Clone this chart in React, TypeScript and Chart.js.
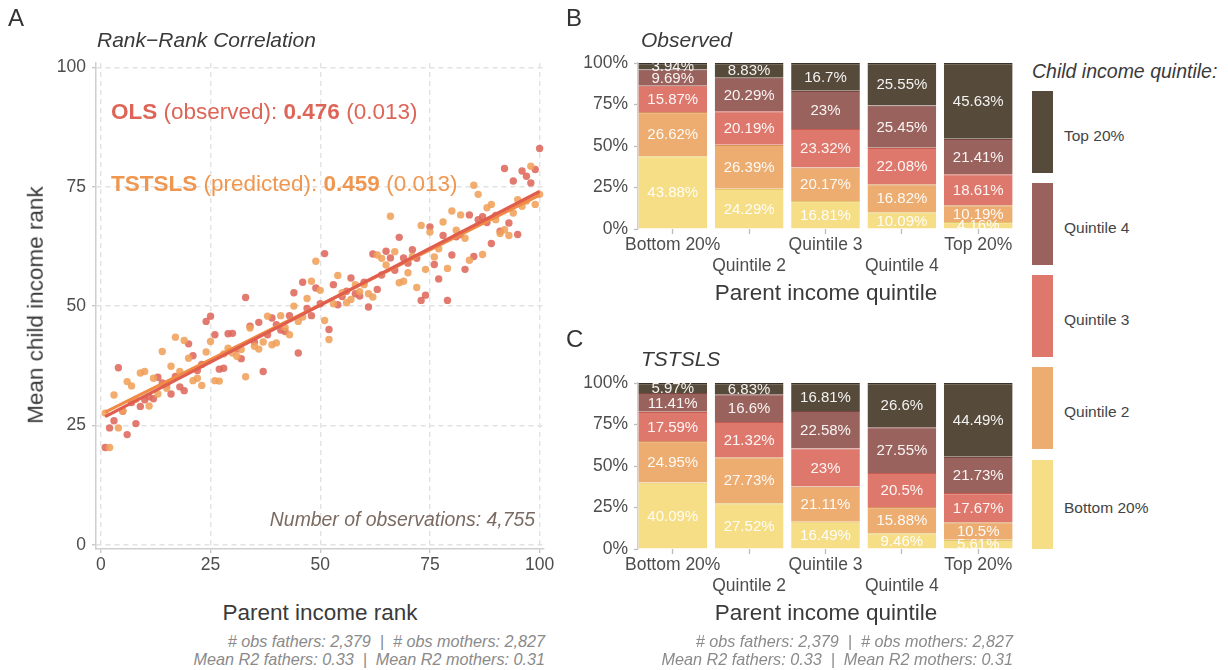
import React, { useEffect, useRef } from 'react';
import { Chart, registerables } from 'chart.js';

Chart.register(...registerables);

const FONT = '"Liberation Sans", Arial, Helvetica, sans-serif';
const TICK_SIZE = 17.5;

// ---------- Panel A data (parent percentile rank 1..100) ----------
const OBSERVED_RANK = [
  20.4, 24.5, 26.0, 37.1, 28.0, 23.1, 29.8, 25.4, 29.0, 30.4,
  31.0, 30.6, 35.1, 33.9, 33.5, 31.6, 35.3, 33.1, 32.3, 42.1,
  39.6, 36.5, 37.8, 46.8, 47.9, 44.0, 36.8, 37.0, 44.2, 44.3,
  41.0, 39.0, 51.8, 45.8, 42.5, 46.6, 36.3, 44.0, 47.5, 46.1,
  45.0, 44.7, 48.0, 52.8, 40.2, 55.0, 49.5, 48.0, 53.8, 50.5,
  61.0, 45.1, 54.5, 50.3, 52.0, 53.1, 55.9, 52.6, 52.1, 55.0,
  49.8, 60.9, 53.5, 56.5, 61.5, 60.1, 57.5, 64.4, 60.1, 59.0,
  61.8, 60.0, 51.2, 52.3, 66.6, 58.7, 55.7, 64.8, 51.2, 60.7,
  64.5, 65.0, 57.7, 69.1, 60.4, 68.1, 68.7, 67.5, 63.1, 69.0,
  65.7, 78.8, 67.4, 76.2, 65.0, 78.3, 77.2, 75.8, 78.6, 83.0,
];
const PREDICTED_RANK = [
  27.6, 20.4, 31.4, 24.5, 28.1, 34.2, 33.3, 30.5, 36.0, 36.3,
  29.1, 34.9, 31.6, 40.5, 32.8, 37.4, 43.5, 36.3, 42.8, 39.1,
  34.4, 34.9, 33.4, 40.4, 42.6, 34.4, 34.3, 40.0, 41.2, 40.2,
  39.5, 40.9, 35.2, 45.4, 41.6, 41.0, 42.5, 47.9, 41.9, 42.3,
  48.0, 45.5, 44.0, 50.0, 46.8, 47.7, 51.6, 55.2, 59.4, 53.3,
  47.0, 43.0, 50.5, 56.4, 52.8, 50.7, 51.4, 54.5, 53.0, 54.5,
  52.6, 51.9, 60.7, 60.0, 58.6, 68.8, 61.4, 54.9, 55.2, 57.0,
  60.4, 53.9, 66.9, 57.7, 65.5, 60.3, 62.0, 67.6, 57.9, 69.9,
  65.9, 69.1, 64.2, 59.6, 75.3, 73.4, 60.8, 70.6, 71.3, 68.1,
  65.2, 66.0, 64.8, 69.5, 72.3, 70.9, 72.0, 79.3, 71.3, 73.4,
];
const PARENT_RANKS = OBSERVED_RANK.map((_, i) => i + 1);
const FIT_SLOPE = [0.476, 0.459]; // OLS, TSTSLS
const FIT_INTERCEPT = [26.4, 27.35];
const RANK_TICKS = [0, 25, 50, 75, 100];

// ---------- Panels B / C data ----------
const PARENT_QUINTILES = ['Bottom 20%', 'Quintile 2', 'Quintile 3', 'Quintile 4', 'Top 20%'];
const CHILD_QUINTILES = ['Bottom 20%', 'Quintile 2', 'Quintile 3', 'Quintile 4', 'Top 20%'];
const SHARE_TICKS = [0, 25, 50, 75, 100];

// Observed: share of children in each child quintile, by parent quintile
const OBS_CHILD_BOTTOM = [43.88, 24.29, 16.81, 10.09, 4.16];
const OBS_CHILD_Q2 = [26.62, 26.39, 20.17, 16.82, 10.19];
const OBS_CHILD_Q3 = [15.87, 20.19, 23.32, 22.08, 18.61];
const OBS_CHILD_Q4 = [9.69, 20.29, 23, 25.45, 21.41];
const OBS_CHILD_TOP = [3.94, 8.83, 16.7, 25.55, 45.63];

// TSTSLS predicted
const TS_CHILD_BOTTOM = [40.09, 27.52, 16.49, 9.46, 5.61];
const TS_CHILD_Q2 = [24.95, 27.73, 21.11, 15.88, 10.5];
const TS_CHILD_Q3 = [17.59, 21.32, 23, 20.5, 17.67];
const TS_CHILD_Q4 = [11.41, 16.6, 22.58, 27.55, 21.73];
const TS_CHILD_TOP = [5.97, 6.83, 16.81, 26.6, 44.49];

const BAR_COLORS = ['#F6DE86', '#EDAD70', '#DF786C', '#9A625C', '#564A3A'];
const BAR_BORDERS = ['#E4C86E', '#D9935A', '#C65C50', '#7A4641', '#3A3026'];

const OBS_COLOR = 'rgba(222,104,92,0.88)';
const PRED_COLOR = 'rgba(240,160,90,0.88)';

const barLabelPlugin = {
  id: 'barLabels',
  afterDatasetsDraw(chart: any) {
    const { ctx, chartArea } = chart;
    ctx.save();
    ctx.beginPath();
    ctx.rect(chartArea.left, chartArea.top, chartArea.right - chartArea.left, chartArea.bottom - chartArea.top);
    ctx.clip();
    ctx.font = `15px ${FONT}`;
    ctx.fillStyle = 'rgba(255,255,255,0.93)';
    ctx.textAlign = 'center';
    ctx.textBaseline = 'middle';
    chart.data.datasets.forEach((ds: any, di: number) => {
      const meta = chart.getDatasetMeta(di);
      meta.data.forEach((el: any, i: number) => {
        const { x, y, base } = el.getProps(['x', 'y', 'base'], true);
        const v = ds.data[i].y;
        ctx.fillText(`${v}%`, x, (y + base) / 2 + 1);
      });
    });
    ctx.restore();
  },
};

function ScatterPanel() {
  const ref = useRef<HTMLCanvasElement>(null);
  useEffect(() => {
    const x0 = PARENT_RANKS[0];
    const x1 = PARENT_RANKS[PARENT_RANKS.length - 1];
    const fit = (k: number) => [x0, x1].map((x) => ({ x, y: FIT_INTERCEPT[k] + FIT_SLOPE[k] * x }));
    const chart = new Chart(ref.current as HTMLCanvasElement, {
      type: 'scatter',
      data: {
        datasets: [
          {
            type: 'line', label: 'OLS fit', data: fit(0), borderColor: '#E05E4E', borderWidth: 3.2,
            pointRadius: 0, showLine: true, fill: false,
          } as any,
          {
            type: 'line', label: 'TSTSLS fit', data: fit(1), borderColor: '#F08C45', borderWidth: 3.2,
            pointRadius: 0, showLine: true, fill: false,
          } as any,
          {
            label: 'TSTSLS (predicted)',
            data: PARENT_RANKS.map((x, i) => ({ x, y: PREDICTED_RANK[i] })),
            pointBackgroundColor: PRED_COLOR, pointBorderWidth: 0, pointRadius: 3.7,
          },
          {
            label: 'OLS (observed)',
            data: PARENT_RANKS.map((x, i) => ({ x, y: OBSERVED_RANK[i] })),
            pointBackgroundColor: OBS_COLOR, pointBorderWidth: 0, pointRadius: 3.7,
          },
        ],
      },
      options: {
        responsive: false,
        animation: false,
        devicePixelRatio: 1,
        layout: { padding: { top: 63, right: 16, left: 0, bottom: 0 } },
        plugins: { legend: { display: false }, tooltip: { enabled: false } },
        scales: {
          x: {
            type: 'linear', min: -1.1, max: 101,
            afterBuildTicks: (s: any) => { s.ticks = RANK_TICKS.map((v) => ({ value: v })); },
            afterFit: (s: any) => { s.height = 51; },
            grid: { color: '#e2e2e2', lineWidth: 1.4, tickLength: 4, tickColor: '#c4c4c4', tickWidth: 1.3, tickBorderDash: [] },
            border: { display: true, color: '#cfcfcf', width: 1.5, dash: [5, 4] },
            ticks: { padding: 2, color: '#4d4d4d', font: { family: FONT, size: TICK_SIZE, lineHeight: 1.2 }, maxRotation: 0, autoSkip: false },
          },
          y: {
            type: 'linear', min: -0.85, max: 100.9,
            afterBuildTicks: (s: any) => { s.ticks = RANK_TICKS.map((v) => ({ value: v })); },
            afterFit: (s: any) => { s.width = 96; },
            grid: { color: '#e2e2e2', lineWidth: 1.4, tickLength: 4, tickColor: '#c4c4c4', tickWidth: 1.3, tickBorderDash: [] },
            border: { display: true, color: '#cfcfcf', width: 1.5, dash: [5, 4] },
            ticks: { padding: 6, color: '#4d4d4d', font: { family: FONT, size: TICK_SIZE, lineHeight: 1.2 } },
          },
        },
      },
    });
    return () => chart.destroy();
  }, []);
  return <canvas ref={ref} width={560} height={600} style={{ position: 'absolute', left: 0, top: 0, width: 560, height: 600 }} />;
}

function BarPanel({ series, top }: { series: number[][]; top: number }) {
  const ref = useRef<HTMLCanvasElement>(null);
  useEffect(() => {
    const chart = new Chart(ref.current as HTMLCanvasElement, {
      type: 'bar',
      data: {
        datasets: CHILD_QUINTILES.map((name, k) => ({
          label: name,
          data: series[k].map((v, i) => ({ x: i + 1, y: v })),
          backgroundColor: BAR_COLORS[k],
          borderColor: BAR_BORDERS[k],
          borderWidth: { top: 1.2, left: 0, right: 0, bottom: 0 },
          borderSkipped: false,
          categoryPercentage: 1,
          barPercentage: 0.9,
        })) as any,
      },
      options: {
        responsive: false,
        animation: false,
        devicePixelRatio: 1,
        layout: { padding: { top: 63, right: 17, left: 0, bottom: 0 } },
        plugins: { legend: { display: false }, tooltip: { enabled: false } },
        scales: {
          x: {
            type: 'linear', min: 0.545, max: 5.455, stacked: true, offset: false,
            afterBuildTicks: (s: any) => { s.ticks = PARENT_QUINTILES.map((_, i) => ({ value: i + 1 })); },
            afterFit: (s: any) => { s.height = 81; },
            grid: { offset: false, drawOnChartArea: false, drawTicks: true, tickLength: 5, tickColor: '#bdbdbd', tickWidth: 1.3 },
            border: { display: false },
            ticks: {
              autoSkip: false, maxRotation: 0, minRotation: 0, padding: 1, color: '#4d4d4d',
              font: { family: FONT, size: TICK_SIZE, lineHeight: 1.18 },
              callback: (v: any) => {
                const i = Math.round(Number(v)) - 1;
                const name = PARENT_QUINTILES[i];
                return i % 2 === 1 ? ['', name] : name;
              },
            },
          },
          y: {
            type: 'linear', min: 0, max: 100, stacked: true,
            afterBuildTicks: (s: any) => { s.ticks = SHARE_TICKS.map((v) => ({ value: v })); },
            afterFit: (s: any) => { s.width = 78; },
            grid: { drawOnChartArea: false, tickLength: 4, tickColor: '#bdbdbd', tickWidth: 1.3 },
            border: { display: true, color: '#cfcfcf', width: 1.5 },
            ticks: { padding: 6, color: '#4d4d4d', font: { family: FONT, size: TICK_SIZE, lineHeight: 1.2 }, callback: (v: any) => `${v}%` },
          },
        },
      },
      plugins: [barLabelPlugin],
    });
    return () => chart.destroy();
  }, [series]);
  return <canvas ref={ref} width={470} height={310} style={{ position: 'absolute', left: 560, top, width: 470, height: 310 }} />;
}

type TxtProps = {
  x: number; y: number; size: number; children: React.ReactNode;
  align?: 'left' | 'right' | 'center'; italic?: boolean; color?: string; bold?: boolean; rotate?: boolean;
};
function Txt({ x, y, size, children, align = 'left', italic, color = '#3a3a3a', bold, rotate }: TxtProps) {
  const style: React.CSSProperties = {
    position: 'absolute', top: y - size * 0.52, fontSize: size, lineHeight: 1, whiteSpace: 'pre',
    fontStyle: italic ? 'italic' : 'normal', fontWeight: bold ? 'bold' : 'normal', color, fontFamily: FONT,
  };
  if (rotate) {
    style.left = x; style.top = y; style.transform = 'translate(-50%, -50%) rotate(-90deg)';
  } else if (align === 'left') {
    style.left = x;
  } else if (align === 'right') {
    style.right = 1228 - x;
  } else {
    style.left = x; style.transform = 'translateX(-50%)';
  }
  return <div style={style}>{children}</div>;
}

const LEGEND_TOPS = [91, 183, 275, 367, 460];
const LEGEND_BOTTOMS = [173, 265, 357, 449, 549];

export default function App() {
  const obsSeries = [OBS_CHILD_BOTTOM, OBS_CHILD_Q2, OBS_CHILD_Q3, OBS_CHILD_Q4, OBS_CHILD_TOP];
  const tsSeries = [TS_CHILD_BOTTOM, TS_CHILD_Q2, TS_CHILD_Q3, TS_CHILD_Q4, TS_CHILD_TOP];
  const legendOrder = CHILD_QUINTILES.map((n, k) => ({ name: n, color: BAR_COLORS[k] })).reverse();
  const olsColor = '#DD6557';
  const tsColor = '#EF9750';
  return (
    <div style={{ position: 'absolute', left: 0, top: 0, width: 1228, height: 670, background: '#ffffff', overflow: 'hidden', fontFamily: FONT }}>
      <ScatterPanel />
      <BarPanel series={obsSeries} top={0} />
      <BarPanel series={tsSeries} top={320} />

      {/* Panel A texts */}
      <Txt x={8} y={18} size={24} color="#333">A</Txt>
      <Txt x={97} y={40} size={21} italic>Rank−Rank Correlation</Txt>
      <Txt x={111} y={113} size={22.5} color={olsColor}>
        <b>OLS</b> (observed): <b>0.476</b> (0.013)
      </Txt>
      <Txt x={111} y={185} size={22.5} color={tsColor}>
        <b>TSTSLS</b> (predicted): <b>0.459</b> (0.013)
      </Txt>
      <Txt x={535} y={520} size={19.4} italic align="right" color="#7a6a61">Number of observations: 4,755</Txt>
      <Txt x={36} y={305} size={22.5} rotate>Mean child income rank</Txt>
      <Txt x={320} y={614} size={22.5} align="center">Parent income rank</Txt>
      <Txt x={545} y={641} size={16.2} italic align="right" color="#8a8a8a">{'# obs fathers: 2,379  |  # obs mothers: 2,827'}</Txt>
      <Txt x={545} y={659} size={16.2} italic align="right" color="#8a8a8a">{'Mean R2 fathers: 0.33  |  Mean R2 mothers: 0.31'}</Txt>

      {/* Panel B texts */}
      <Txt x={566} y={18} size={24} color="#333">B</Txt>
      <Txt x={641} y={40} size={21} italic>Observed</Txt>
      <Txt x={826} y={294} size={22.5} align="center">Parent income quintile</Txt>

      {/* Panel C texts */}
      <Txt x={566} y={339} size={24} color="#333">C</Txt>
      <Txt x={641} y={359} size={21} italic>TSTSLS</Txt>
      <Txt x={826} y={614} size={22.5} align="center">Parent income quintile</Txt>
      <Txt x={1013} y={641} size={16.2} italic align="right" color="#8a8a8a">{'# obs fathers: 2,379  |  # obs mothers: 2,827'}</Txt>
      <Txt x={1013} y={659} size={16.2} italic align="right" color="#8a8a8a">{'Mean R2 fathers: 0.33  |  Mean R2 mothers: 0.31'}</Txt>

      {/* Legend */}
      <Txt x={1032} y={72} size={19.5} italic>Child income quintile:</Txt>
      {legendOrder.map((item, i) => (
        <React.Fragment key={item.name}>
          <div style={{ position: 'absolute', left: 1032, top: LEGEND_TOPS[i], width: 21, height: LEGEND_BOTTOMS[i] - LEGEND_TOPS[i], background: item.color }} />
          <Txt x={1064} y={(LEGEND_TOPS[i] + LEGEND_BOTTOMS[i]) / 2 + 4} size={15.5} color="#444">{item.name}</Txt>
        </React.Fragment>
      ))}
    </div>
  );
}
